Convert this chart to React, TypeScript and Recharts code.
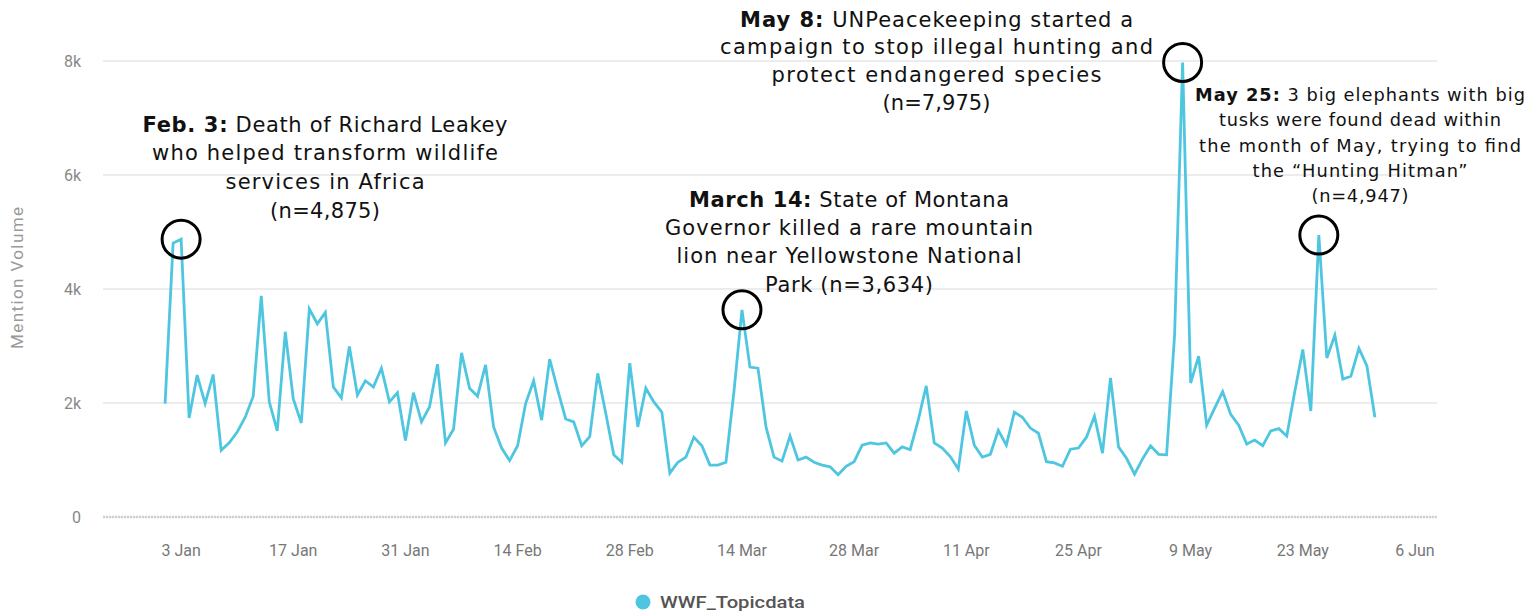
import React from "react";
import {
  LineChart,
  Line,
  XAxis,
  YAxis,
  CartesianGrid,
  ReferenceDot,
} from "recharts";

// day 0 = 3 Jan, first point is 1 Jan
const firstDay = -2;

const mentionVolume = [
  1990, 4806, 4875, 1737, 2490, 1990, 2500, 1170, 1300, 1490,
  1750, 2120, 3880, 2020, 1510, 3250, 2070, 1650, 3650, 3390,
  3590, 2280, 2090, 2990, 2140, 2390, 2280, 2610, 2020, 2180,
  1340, 2180, 1670, 1930, 2680, 1300, 1540, 2880, 2260, 2120,
  2670, 1580, 1210, 990, 1250, 1990, 2390, 1700, 2770, 2230,
  1720, 1670, 1250, 1410, 2520, 1820, 1090, 960, 2700, 1580,
  2260, 2020, 1840, 770, 960, 1050, 1400, 1250, 910, 910,
  960, 2200, 3634, 2630, 2610, 1580, 1050, 980, 1420, 1000,
  1050, 960, 910, 880, 740, 890, 970, 1260, 1300, 1280,
  1300, 1120, 1230, 1180, 1700, 2300, 1300, 1210, 1060, 840,
  1860, 1260, 1050, 1100, 1520, 1260, 1840, 1750, 1560, 1470,
  970, 950, 890, 1190, 1210, 1400, 1770, 1120, 2440, 1230,
  1030, 750, 1020, 1250, 1100, 1090, 3200, 7975, 2350, 2820,
  1610, 1910, 2200, 1800, 1610, 1280, 1350, 1250, 1510, 1550,
  1420, 2200, 2940, 1860, 4947, 2790, 3190, 2420, 2470, 2960,
  2650, 1750,
];

const xTickDays = [0, 14, 28, 42, 56, 70, 84, 98, 112, 126, 140, 154];
const xTickLabels = [
  "3 Jan", "17 Jan", "31 Jan", "14 Feb", "28 Feb", "14 Mar",
  "28 Mar", "11 Apr", "25 Apr", "9 May", "23 May", "6 Jun",
];
const yTicks = [0, 2000, 4000, 6000, 8000];
const peakDays = [0, 70, 125, 142];

const LINE_COLOR = "#4fc6e0";
const NOTE_FONT = "'DejaVu Sans', sans-serif";

const data = mentionVolume.map((v, i) => ({ day: firstDay + i, v }));

// annotation text lines: centre x, baseline y, target width
const notes = [
  {
    cx: 325, size: 21,
    lines: [
      { b: "Feb. 3:", t: " Death of Richard Leakey", y: 132, w: 365 },
      { t: "who helped transform wildlife", y: 160, w: 346 },
      { t: "services in Africa", y: 189, w: 199 },
      { t: "(n=4,875)", y: 218, w: 110 },
    ],
  },
  {
    cx: 849, size: 21,
    lines: [
      { b: "March 14:", t: " State of Montana", y: 207, w: 320 },
      { t: "Governor killed a rare mountain", y: 235, w: 368 },
      { t: "lion near Yellowstone National", y: 263, w: 345 },
      { t: "Park (n=3,634)", y: 292, w: 168 },
    ],
  },
  {
    cx: 936.5, size: 21,
    lines: [
      { b: "May 8:", t: " UNPeacekeeping started a", y: 27, w: 393 },
      { t: "campaign to stop illegal hunting and", y: 54, w: 433 },
      { t: "protect endangered species", y: 82, w: 330 },
      { t: "(n=7,975)", y: 110, w: 108 },
    ],
  },
  {
    cx: 1360, size: 17.8,
    lines: [
      { b: "May 25:", t: " 3 big elephants with big", y: 101, w: 330 },
      { t: "tusks were found dead within", y: 126, w: 282 },
      { t: "the month of May, trying to find", y: 152, w: 322 },
      { t: "the \u201cHunting Hitman\u201d", y: 177, w: 215 },
      { t: "(n=4,947)", y: 202, w: 97 },
    ],
  },
];

const App: React.FC = () => {
  return (
    <div
      style={{
        position: "absolute",
        left: 0,
        top: 0,
        width: 1528,
        height: 613,
        background: "#fff",
        overflow: "hidden",
      }}
    >
      <LineChart
        width={1528}
        height={613}
        data={data}
        margin={{ top: 61, right: 91, left: 0, bottom: 56 }}
      >
        <CartesianGrid vertical={false} stroke="#ececec" strokeWidth={2} />
        <XAxis
          dataKey="day"
          type="number"
          domain={[-9.75, 156.75]}
          ticks={xTickDays}
          interval={0}
          allowDataOverflow
          tickFormatter={(d: number) => xTickLabels[xTickDays.indexOf(d)]}
          height={40}
          axisLine={{ stroke: "#d2d2d2", strokeWidth: 2.5, strokeDasharray: "2 1" }}
          tickLine={false}
          tickMargin={22}
          tick={{ fill: "#777", fontSize: 16, fontFamily: "Roboto" }}
        />
        <YAxis
          domain={[0, 8000]}
          ticks={yTicks}
          width={103}
          axisLine={false}
          tickLine={false}
          tickMargin={16}
          tickFormatter={(v: number) => (v === 0 ? "0" : `${v / 1000}k`)}
          tick={{ fill: "#888", fontSize: 16, fontFamily: "Roboto" }}
        />
        <Line
          type="linear"
          dataKey="v"
          name="WWF_Topicdata"
          stroke={LINE_COLOR}
          strokeWidth={2.8}
          dot={false}
          isAnimationActive={false}
        />
        {peakDays.map((d) => (
          <ReferenceDot
            key={d}
            x={d}
            y={data[d - firstDay].v}
            r={19}
            fill="none"
            stroke="#000"
            strokeWidth={3}
            ifOverflow="visible"
          />
        ))}
      </LineChart>

      <svg
        width={1528}
        height={613}
        style={{ position: "absolute", left: 0, top: 0, pointerEvents: "none" }}
      >
        {notes.map((n, i) =>
          n.lines.map((l, j) => (
            <text
              key={`${i}-${j}`}
              x={n.cx}
              y={l.y}
              textAnchor="middle"
              fontFamily={NOTE_FONT}
              fontSize={n.size}
              fill="#111"
              textLength={l.w}
              lengthAdjust="spacing"
            >
              {l.b && <tspan fontWeight={700}>{l.b}</tspan>}
              {l.t}
            </text>
          ))
        )}
        <text
          transform="translate(23, 278) rotate(-90)"
          textAnchor="middle"
          fontFamily="Roboto"
          fontSize={17}
          fill="#999"
          textLength={142}
        >
          Mention Volume
        </text>
        <circle cx={643} cy={602} r={7.5} fill={LINE_COLOR} />
        <text
          x={660}
          y={608}
          fontFamily="Roboto"
          fontWeight={500}
          fontSize={17}
          fill="#555"
          textLength={145}
          lengthAdjust="spacingAndGlyphs"
        >
          WWF_Topicdata
        </text>
      </svg>
    </div>
  );
};

export default App;
